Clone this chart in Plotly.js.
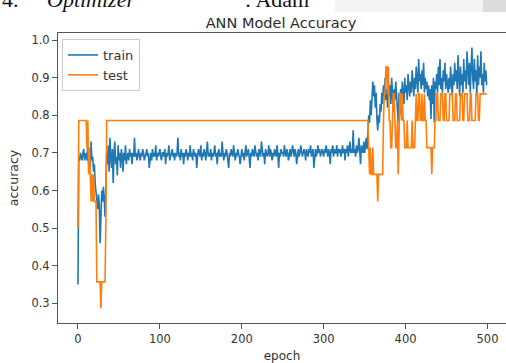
<!DOCTYPE html>
<html>
<head>
<meta charset="utf-8">
<script src="https://cdn.plot.ly/plotly-3.0.1.min.js"></script>
<style>html,body{margin:0;padding:0;background:#fff;}#chart{width:506px;height:363px;}</style>
</head>
<body>
<div id="chart"></div>
<script>
// ---- data ----
const seriesNames = ["train", "test"];
const xTickVals = [0, 100, 200, 300, 400, 500];
const yTickVals = [0.3, 0.4, 0.5, 0.6, 0.7, 0.8, 0.9, 1.0];

const trainAcc = [
.35,.69,.68,.70,.69,.68,.70,.71,.68,.69,
.70,.68,.72,.67,.70,.66,.73,.68,.69,.65,
.67,.62,.60,.58,.55,.59,.56,.46,.55,.60,
.57,.61,.58,.53,.60,.70,.67,.72,.65,.74,
.69,.66,.71,.62,.70,.73,.67,.69,.64,.72,
.68,.70,.66,.71,.69,.65,.70,.68,.72,.67,
.69,.70,.68,.71,.69,.70,.67,.70,.69,.74,
.69,.70,.68,.70,.71,.69,.68,.70,.69,.71,
.70,.68,.69,.70,.71,.69,.70,.66,.69,.70,
.68,.71,.69,.70,.69,.72,.68,.70,.69,.70,
.71,.69,.68,.70,.70,.69,.71,.67,.70,.69,
.70,.72,.68,.69,.70,.71,.69,.70,.68,.70,
.69,.70,.74,.69,.70,.68,.71,.69,.70,.67,
.70,.69,.71,.70,.68,.70,.69,.72,.69,.70,
.68,.71,.70,.69,.70,.66,.69,.71,.70,.69,
.72,.68,.70,.69,.71,.70,.68,.70,.73,.69,
.70,.69,.71,.68,.70,.69,.70,.72,.69,.70,
.67,.70,.71,.69,.70,.69,.73,.70,.68,.70,
.69,.71,.70,.68,.66,.70,.69,.71,.70,.69,
.72,.70,.68,.70,.69,.71,.70,.69,.67,.70,
.71,.69,.70,.68,.70,.72,.69,.70,.71,.69,
.66,.70,.69,.71,.70,.69,.72,.70,.69,.70,
.68,.71,.70,.69,.73,.70,.69,.70,.67,.71,
.70,.69,.70,.72,.69,.71,.70,.68,.70,.69,
.71,.70,.69,.72,.70,.66,.70,.69,.71,.70,
.70,.69,.72,.70,.69,.71,.70,.68,.70,.71,
.69,.70,.72,.70,.69,.71,.70,.67,.70,.71,
.69,.70,.72,.70,.69,.70,.71,.70,.68,.71,
.70,.69,.71,.70,.72,.69,.70,.71,.66,.70,
.71,.69,.70,.72,.70,.71,.69,.70,.71,.70,
.69,.71,.70,.72,.70,.69,.71,.70,.67,.71,
.70,.72,.69,.71,.70,.70,.72,.69,.71,.70,
.71,.69,.70,.72,.70,.71,.68,.71,.70,.72,
.69,.71,.73,.70,.71,.70,.76,.70,.71,.69,
.72,.70,.71,.74,.70,.67,.72,.71,.70,.73,
.70,.72,.74,.71,.76,.80,.78,.84,.80,.86,
.89,.85,.88,.82,.86,.79,.76,.80,.78,.83,
.81,.86,.83,.88,.85,.90,.84,.87,.82,.89,
.85,.88,.83,.90,.86,.81,.87,.84,.89,.85,
.82,.78,.86,.80,.87,.84,.89,.85,.83,.90,
.86,.88,.84,.91,.87,.85,.89,.86,.92,.88,
.85,.90,.87,.93,.88,.86,.95,.89,.91,.87,
.92,.88,.94,.86,.90,.87,.89,.85,.88,.84,
.87,.79,.88,.83,.90,.78,.89,.87,.91,.86,
.93,.88,.95,.87,.90,.86,.92,.89,.94,.87,
.91,.88,.86,.90,.87,.93,.89,.85,.91,.88,
.94,.89,.92,.87,.96,.90,.85,.93,.88,.91,
.86,.95,.89,.92,.87,.97,.90,.88,.94,.86,
.93,.98,.90,.87,.95,.89,.92,.85,.96,.88,
.93,.90,.97,.88,.91,.86,.94,.89,.92,.88
];

const testAcc = [
.5,.786,.786,.786,.786,.786,.786,.786,.786,.786,
.786,.714,.786,.643,.714,.643,.571,.643,.571,.643,
.571,.571,.571,.357,.357,.357,.357,.357,.286,.357,
.357,.357,.357,.357,.5,.786,.786,.786,.786,.786,
.786,.786,.786,.786,.786,.786,.786,.786,.786,.786,
.786,.786,.786,.786,.786,.786,.786,.786,.786,.786,
.786,.786,.786,.786,.786,.786,.786,.786,.786,.786,
.786,.786,.786,.786,.786,.786,.786,.786,.786,.786,
.786,.786,.786,.786,.786,.786,.786,.786,.786,.786,
.786,.786,.786,.786,.786,.786,.786,.786,.786,.786,
.786,.786,.786,.786,.786,.786,.786,.786,.786,.786,
.786,.786,.786,.786,.786,.786,.786,.786,.786,.786,
.786,.786,.786,.786,.786,.786,.786,.786,.786,.786,
.786,.786,.786,.786,.786,.786,.786,.786,.786,.786,
.786,.786,.786,.786,.786,.786,.786,.786,.786,.786,
.786,.786,.786,.786,.786,.786,.786,.786,.786,.786,
.786,.786,.786,.786,.786,.786,.786,.786,.786,.786,
.786,.786,.786,.786,.786,.786,.786,.786,.786,.786,
.786,.786,.786,.786,.786,.786,.786,.786,.786,.786,
.786,.786,.786,.786,.786,.786,.786,.786,.786,.786,
.786,.786,.786,.786,.786,.786,.786,.786,.786,.786,
.786,.786,.786,.786,.786,.786,.786,.786,.786,.786,
.786,.786,.786,.786,.786,.786,.786,.786,.786,.786,
.786,.786,.786,.786,.786,.786,.786,.786,.786,.786,
.786,.786,.786,.786,.786,.786,.786,.786,.786,.786,
.786,.786,.786,.786,.786,.786,.786,.786,.786,.786,
.786,.786,.786,.786,.786,.786,.786,.786,.786,.786,
.786,.786,.786,.786,.786,.786,.786,.786,.786,.786,
.786,.786,.786,.786,.786,.786,.786,.786,.786,.786,
.786,.786,.786,.786,.786,.786,.786,.786,.786,.786,
.786,.786,.786,.786,.786,.786,.786,.786,.786,.786,
.786,.786,.786,.786,.786,.786,.786,.786,.786,.786,
.786,.786,.786,.786,.786,.786,.786,.786,.786,.786,
.786,.786,.786,.786,.786,.786,.786,.786,.786,.786,
.786,.786,.786,.786,.786,.786,.786,.786,.786,.786,
.786,.786,.786,.786,.786,.714,.643,.714,.643,.643,
.714,.643,.643,.643,.643,.643,.571,.643,.643,.643,
.643,.643,.643,.786,.857,.857,.929,.929,.857,.929,
.786,.786,.714,.714,.786,.857,.857,.786,.714,.714,
.786,.643,.786,.857,.857,.786,.857,.786,.786,.714,
.714,.714,.786,.714,.714,.714,.714,.714,.786,.714,
.714,.714,.786,.857,.786,.786,.857,.857,.786,.786,
.857,.786,.786,.857,.786,.786,.714,.714,.714,.714,
.714,.714,.643,.714,.714,.714,.786,.786,.857,.857,
.786,.786,.786,.857,.857,.857,.786,.786,.857,.857,
.786,.786,.786,.786,.857,.857,.857,.857,.786,.786,
.786,.857,.857,.786,.786,.786,.786,.857,.857,.857,
.786,.786,.857,.857,.857,.857,.786,.786,.786,.857,
.857,.786,.786,.786,.786,.786,.857,.857,.857,.786,
.786,.857,.857,.857,.857,.857,.857,.857,.857,.857
];

const trainEpochs = trainAcc.map((_, i) => i);
const testEpochs = testAcc.map((_, i) => i);

// ---- chart ----
const W = 506, H = 363;
const L = 58, R = 0, T = 33, B = 40;
const PW = W - L - R, PH = H - T - B;
const px = x => (x - L) / PW;
const py = y => (H - B - y) / PH;

const axisColor = '#555';
const textColor = '#333';
const fontFam = 'DejaVu Sans, sans-serif';
const serif = 'Liberation Serif, serif';

const traces = [
  {x: trainEpochs, y: trainAcc, name: seriesNames[0], type: 'scatter', mode: 'lines',
   line: {color: '#1f77b4', width: 1.6}},
  {x: testEpochs, y: testAcc, name: seriesNames[1], type: 'scatter', mode: 'lines',
   line: {color: '#ff7f0e', width: 1.6}}
];

const layout = {
  width: W, height: H,
  margin: {l: L, r: R, t: T, b: B, pad: 0},
  paper_bgcolor: '#fff', plot_bgcolor: '#fff',
  font: {family: fontFam, color: textColor, size: 12},
  title: {text: 'ANN Model Accuracy', font: {family: fontFam, size: 14.5, color: '#2a2a2a'},
          x: px(281), xref: 'paper', xanchor: 'center', y: 1 - 22.5 / H, yref: 'container', yanchor: 'middle'},
  xaxis: {
    range: [-24.4, 522.6], tickvals: xTickVals, ticktext: xTickVals.map(String),
    ticks: 'outside', ticklen: 5, tickwidth: 1, tickcolor: axisColor,
    showline: true, linecolor: axisColor, linewidth: 1, mirror: true,
    showgrid: false, zeroline: false,
    tickfont: {family: fontFam, size: 11.5, color: textColor},
    title: {text: 'epoch', font: {family: fontFam, size: 12, color: textColor}, standoff: 8}
  },
  yaxis: {
    range: [0.2476, 1.0189], tickvals: yTickVals, ticktext: yTickVals.map(v => v.toFixed(1)),
    ticks: 'outside', ticklen: 5, tickwidth: 1, tickcolor: axisColor,
    showline: true, linecolor: axisColor, linewidth: 1, mirror: false,
    showgrid: false, zeroline: false,
    tickfont: {family: fontFam, size: 11.5, color: textColor},
    title: {text: 'accuracy', font: {family: fontFam, size: 12.5, color: textColor}, standoff: 10}
  },
  showlegend: true,
  legend: {x: px(62), y: py(39), xanchor: 'left', yanchor: 'top',
           bgcolor: '#fff', bordercolor: '#ccc', borderwidth: 1,
           font: {family: fontFam, size: 13, color: textColor}},
  shapes: [
    {type: 'rect', xref: 'paper', yref: 'paper', x0: px(335), x1: px(483), y0: py(12), y1: py(0),
     fillcolor: '#f4f4f4', line: {width: 0}, layer: 'below'},
    {type: 'rect', xref: 'paper', yref: 'paper', x0: px(483), x1: px(506), y0: py(12), y1: py(0),
     fillcolor: '#dcdcdc', line: {width: 0}, layer: 'below'}
  ],
  annotations: [
    {text: '4.', xref: 'paper', yref: 'paper', x: px(0), y: py(-1), xanchor: 'left', yanchor: 'middle',
     showarrow: false, font: {family: serif, size: 22, color: '#111'}},
    {text: '<i>Optimizer</i>', xref: 'paper', yref: 'paper', x: px(45), y: py(-1), xanchor: 'left', yanchor: 'middle',
     showarrow: false, font: {family: serif, size: 22, color: '#111'}},
    {text: ': Adam', xref: 'paper', yref: 'paper', x: px(243), y: py(-1), xanchor: 'left', yanchor: 'middle',
     showarrow: false, font: {family: serif, size: 22, color: '#111'}}
  ]
};

Plotly.newPlot('chart', traces, layout, {staticPlot: true, displayModeBar: false});
</script>
</body>
</html>
